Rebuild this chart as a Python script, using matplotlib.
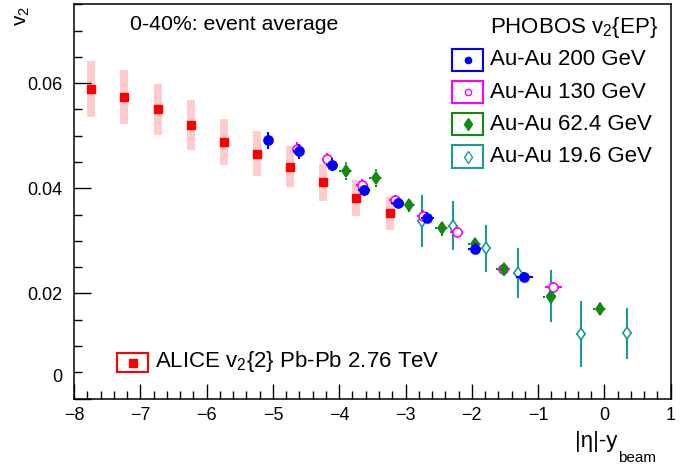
import numpy as np
import matplotlib.pyplot as plt
from matplotlib.patches import Rectangle
from matplotlib.lines import Line2D
from matplotlib.ticker import MultipleLocator

plt.rcParams['font.family'] = ['Liberation Sans', 'DejaVu Sans']
plt.rcParams['mathtext.default'] = 'regular'

W, H = 698, 466

# ALICE v2{2} Pb-Pb 2.76 TeV (points + systematic boxes)
alice_x = [-7.74, -7.24, -6.74, -6.24, -5.74, -5.24, -4.74, -4.24, -3.74, -3.24]
alice_v2 = [0.0589, 0.0574, 0.0550, 0.0520, 0.0488, 0.0466, 0.0441, 0.0411, 0.0381, 0.0352]
alice_sys = [0.0053, 0.0051, 0.0049, 0.0047, 0.0044, 0.0042, 0.0039, 0.0036, 0.0034, 0.0032]

# PHOBOS v2{EP}, |eta| - y_beam
au200_x = [-5.07, -4.61, -4.11, -3.62, -3.12, -2.67, -1.955, -1.21]
au200_v2 = [0.0491, 0.0470, 0.0445, 0.0396, 0.0372, 0.0344, 0.0285, 0.0231]
au200_err = [0.0016, 0.0014, 0.0012, 0.0011, 0.0010, 0.0010, 0.0010, 0.0010]
au200_xerr = [0.07, 0.08, 0.09, 0.09, 0.10, 0.10, 0.10, 0.13]

au130_x = [-4.64, -4.18, -3.65, -3.16, -2.73, -2.23, -1.53, -0.77]
au130_v2 = [0.0475, 0.0456, 0.0406, 0.0377, 0.0348, 0.0317, 0.0246, 0.0212]
au130_err = [0.0013, 0.0012, 0.0011, 0.0010, 0.0010, 0.0010, 0.0010, 0.0010]
au130_xerr = [0.07, 0.08, 0.09, 0.09, 0.10, 0.10, 0.11, 0.125]

au62_x = [-3.90, -3.45, -2.95, -2.45, -1.955, -1.52, -0.81, -0.06]
au62_v2 = [0.0433, 0.0420, 0.0369, 0.0324, 0.0293, 0.0246, 0.0193, 0.0171]
au62_err = [0.0017, 0.0017, 0.0015, 0.0014, 0.0012, 0.0012, 0.0012, 0.0012]
au62_xerr = [0.10, 0.10, 0.10, 0.10, 0.10, 0.11, 0.11, 0.11]

au19_x = [-2.75, -2.29, -1.79, -1.30, -0.81, -0.36, 0.34]
au19_v2 = [0.0338, 0.0329, 0.0286, 0.0239, 0.0195, 0.0123, 0.0124]
au19_err = [0.0050, 0.0047, 0.0045, 0.0047, 0.0050, 0.0063, 0.0048]
au19_xerr = [0.075, 0.075, 0.075, 0.075, 0.075, 0.075, 0.075]

phobos_labels = ["Au-Au 200 GeV", "Au-Au 130 GeV", "Au-Au 62.4 GeV", "Au-Au 19.6 GeV"]
phobos_colors = ["#0000ff", "#ff00ff", "#118a11", "#1a9a9a"]
phobos_markers = ["o", "o", "d", "d"]
phobos_filled = [True, False, True, False]

fig = plt.figure(figsize=(W / 100, H / 100), dpi=100)
ax = fig.add_axes([74 / W, 1 - 398.5 / H, (670.7 - 74) / W, (398.5 - 4.3) / H])
ax.set_xlim(-8, 1)
ax.set_ylim(0, 0.075)

# ALICE
box_w = 0.12
for x, v, s in zip(alice_x, alice_v2, alice_sys):
    ax.add_patch(Rectangle((x - box_w / 2, v - s), box_w, 2 * s,
                           facecolor="#ffcccc", edgecolor="none", zorder=1))
ax.plot(alice_x, alice_v2, "s", color="red", ms=6, zorder=2)

# PHOBOS (19.6 first so the higher energies sit on top)
series = [
    (au19_x, au19_v2, au19_err, au19_xerr),
    (au130_x, au130_v2, au130_err, au130_xerr),
    (au62_x, au62_v2, au62_err, au62_xerr),
    (au200_x, au200_v2, au200_err, au200_xerr),
]
order = [3, 1, 2, 0]
for i, (k, (x, v, e, xe)) in enumerate(zip(order, series)):
    c = phobos_colors[k]
    ms = 6 if phobos_markers[k] == "d" else 6.5
    mfc = c if phobos_filled[k] else "white"
    eb = ax.errorbar(x, v, yerr=e, xerr=xe, fmt=phobos_markers[k], color=c,
                     mfc=mfc, mec=c, mew=1.2, ms=ms, elinewidth=1.5,
                     capsize=0, zorder=3 + i)
    if k == 2:
        for lc in eb[2]:
            lc.set_linestyle((0, (1, 1.5)))

# axes style
ax.set_xticks(np.arange(-8, 2, 1))
ax.xaxis.set_minor_locator(MultipleLocator(0.2))
ax.set_yticks([0, 0.02, 0.04, 0.06])
ax.set_yticklabels(["", "0.02", "0.04", "0.06"])
ax.yaxis.set_minor_locator(MultipleLocator(0.005))
ax.tick_params(which="both", direction="in", top=False, right=False,
               labelsize=13, width=1)
ax.tick_params(axis="x", which="major", length=11, pad=6)
ax.tick_params(axis="x", which="minor", length=5.5)
ax.tick_params(axis="y", which="major", length=12, pad=8.6)
ax.tick_params(axis="y", which="minor", length=6)
for sp in ax.spines.values():
    sp.set_linewidth(1.1)

fig.text(62 / W, 1 - 378 / H, "0", ha="right", va="center", fontsize=13)
fig.text(617 / W, 1 - 447 / H, "|η|-y", ha="right", va="baseline", fontsize=16)
fig.text(618 / W, 1 - 462 / H, "beam", ha="left", va="baseline", fontsize=11)
fig.text(23 / W, 1 - 6 / H, "v$_2$", rotation=90, ha="center", va="top", fontsize=15)

fig.text(130 / W, 1 - 25 / H, "0-40%: event average", ha="left", va="center", fontsize=15.3)
fig.text(490 / W, 1 - 27 / H, "PHOBOS v$_2${EP}", ha="left", va="center", fontsize=16)

# PHOBOS legend
rows = [60, 92, 124, 156.5]
for k, yc in enumerate(rows):
    c = phobos_colors[k]
    fig.add_artist(Rectangle((451.7 / W, 1 - (yc + 11.3) / H), 31.6 / W, 22.7 / H,
                             transform=fig.transFigure, facecolor="none",
                             edgecolor=c, linewidth=1.5))
    ms = 6 if phobos_markers[k] == "d" else 4.5
    fig.add_artist(Line2D([467.5 / W], [1 - yc / H], transform=fig.transFigure,
                          marker=phobos_markers[k], ms=ms, color=c, mec=c, mew=1,
                          mfc=c if phobos_filled[k] else "white"))
    fig.text(490 / W, 1 - yc / H, phobos_labels[k], ha="left", va="center", fontsize=16)

# ALICE legend
fig.add_artist(Rectangle((116.7 / W, 1 - 372 / H), 31.6 / W, 19 / H,
                         transform=fig.transFigure, facecolor="none",
                         edgecolor="red", linewidth=1.5))
fig.add_artist(Line2D([132.5 / W], [1 - 362.5 / H], transform=fig.transFigure,
                      marker="s", ms=5.5, color="red"))
fig.text(155 / W, 1 - 362 / H, "ALICE v$_2${2} Pb-Pb 2.76 TeV", ha="left",
         va="center", fontsize=16)

fig.savefig("out.png", dpi=100)
